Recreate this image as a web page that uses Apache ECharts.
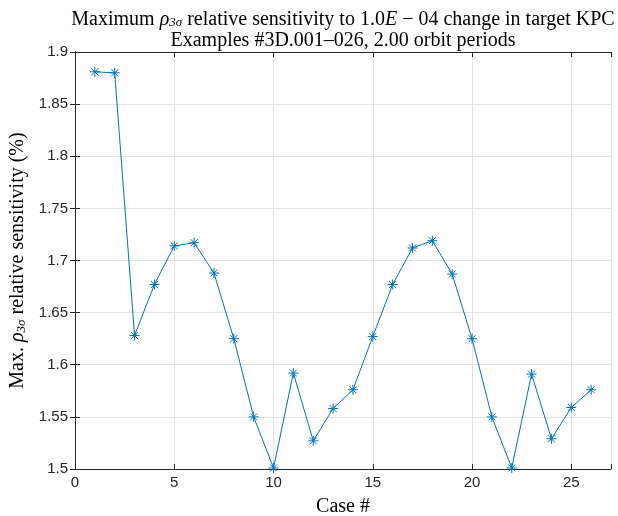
<!DOCTYPE html>
<html><head><meta charset="utf-8">
<script src="https://cdn.jsdelivr.net/npm/echarts@6/dist/echarts.min.js"></script>
<style>html,body{margin:0;padding:0;background:#fff}#c{width:618px;height:516px}</style>
</head><body><div id="c"></div>
<script>
const cases = [1,2,3,4,5,6,7,8,9,10,11,12,13,14,15,16,17,18,19,20,21,22,23,24,25,26];
const sensitivity = [1.881,1.880,1.628,1.677,1.714,1.717,1.688,1.625,1.550,1.501,1.592,1.527,1.558,1.576,1.627,1.677,1.712,1.719,1.687,1.625,1.550,1.501,1.591,1.529,1.559,1.576];
const xTicks = [0,5,10,15,20,25];
const yTicks = [1.5,1.55,1.6,1.65,1.7,1.75,1.8,1.85,1.9];

const serif = '"Liberation Serif", "DejaVu Serif", serif';
const chart = echarts.init(document.getElementById('c'));
const axisCol = '#262626';
const star = 'path://M0,-5L0,5M-5,0L5,0M-3.5,-3.5L3.5,3.5M-3.5,3.5L3.5,-3.5';
const fs = 20;
chart.setOption({
  animation:false,
  backgroundColor:'#fff',
  title:{
    left: 338, textAlign:'center', top:4,
    text:'{n|Maximum }{r|ρ}{s|3σ}{n| relative sensitivity to 1.0}{i|E}{n| − 04 change in target KPC}\n{n|Examples #3D.001–026, 2.00 orbit periods}',
    textStyle:{
      fontWeight:'normal',
      rich:{
        n:{fontFamily:serif,fontSize:fs,color:'#000',lineHeight:21,fontWeight:'normal'},
        i:{fontFamily:serif,fontSize:fs,color:'#000',fontStyle:'italic',lineHeight:21,fontWeight:'normal'},
        r:{fontFamily:serif,fontSize:fs,color:'#000',fontStyle:'italic',lineHeight:21,fontWeight:'normal'},
        s:{fontFamily:serif,fontSize:13,color:'#000',fontStyle:'italic',padding:[7,0,0,0],lineHeight:21,fontWeight:'normal'}
      }
    }
  },
  grid:{left:75,right:7,top:52,bottom:47,containLabel:false,outerBoundsMode:'none'},
  xAxis:[{
    type:'value',min:0,max:27,interval:5,
    name:'Case #',nameLocation:'middle',nameGap:28,
    nameTextStyle:{fontFamily:serif,fontSize:fs,color:'#000'},
    axisLine:{show:true,lineStyle:{color:axisCol,width:1}},
    axisTick:{show:true,inside:true,length:5,lineStyle:{color:axisCol}},
    axisLabel:{color:axisCol,fontSize:15,fontFamily:'"Liberation Sans", Arial, sans-serif',margin:6,
      formatter:v=>xTicks.includes(v)?String(v):''},
    splitLine:{show:true,lineStyle:{color:'#e3e3e3',width:1}}
  },{
    type:'value',min:0,max:27,interval:5,position:'top',
    axisLine:{show:true,lineStyle:{color:axisCol,width:1}},
    axisTick:{show:true,inside:true,length:5,lineStyle:{color:axisCol}},
    axisLabel:{show:false},splitLine:{show:false}
  }],
  yAxis:[{
    type:'value',min:1.5,max:1.9,interval:0.05,
    name:'{n|Max. }{r|ρ}{s|3σ}{n| relative sensitivity (%)}',
    nameLocation:'middle',nameGap:40,nameRotate:90,
    nameTextStyle:{rich:{
      n:{fontFamily:serif,fontSize:fs,color:'#000'},
      r:{fontFamily:serif,fontSize:fs,color:'#000',fontStyle:'italic'},
      s:{fontFamily:serif,fontSize:13,color:'#000',fontStyle:'italic',padding:[7,0,0,0]}
    }},
    axisLine:{show:true,lineStyle:{color:axisCol,width:1}},
    axisTick:{show:true,inside:true,length:5,lineStyle:{color:axisCol}},
    axisLabel:{color:axisCol,fontSize:15,fontFamily:'"Liberation Sans", Arial, sans-serif',margin:7,
      formatter:v=>{const t=yTicks.find(x=>Math.abs(x-v)<1e-9);return t===undefined?'':String(t);}},
    splitLine:{show:true,lineStyle:{color:'#e3e3e3',width:1}}
  },{
    type:'value',min:1.5,max:1.9,interval:0.05,position:'right',
    axisLine:{show:true,lineStyle:{color:axisCol,width:1}},
    axisTick:{show:true,inside:true,length:5,lineStyle:{color:axisCol}},
    axisLabel:{show:false},splitLine:{show:false}
  }],
  series:[{
    type:'line',
    data:cases.map((c,i)=>[c,sensitivity[i]]),
    lineStyle:{color:'#0072BD',width:1},
    symbol:star,symbolSize:10,showSymbol:true,
    itemStyle:{color:'none',borderColor:'#0072BD',borderWidth:1},
    clip:false
  }]
});
</script></body></html>
